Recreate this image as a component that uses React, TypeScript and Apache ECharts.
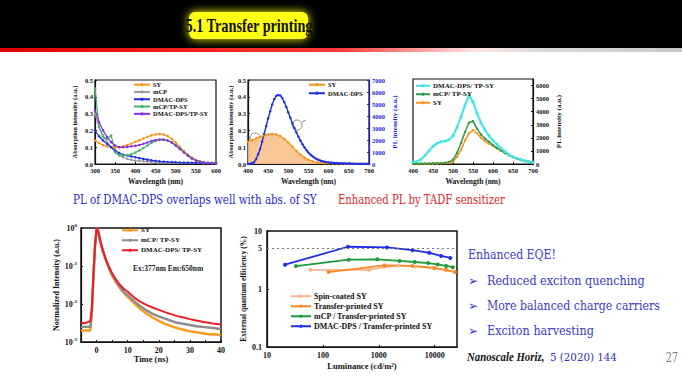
import React, { useEffect, useRef } from "react";
import * as echarts from "echarts";

const SERIF = "'Liberation Serif', 'Times New Roman', serif";
const REG = "DejaVu Serif";

// ---------- Chart 1: absorption ----------
const ABS_WL = [300, 310, 320, 330, 340, 350, 360, 370, 380, 390, 400, 410, 420, 430, 440, 450, 460, 470, 480, 490, 500, 510, 520, 530, 540, 550, 560, 570, 580, 590, 600];
const ABS_SY = [0.14, 0.125, 0.112, 0.105, 0.1, 0.098, 0.1, 0.105, 0.112, 0.122, 0.132, 0.142, 0.152, 0.162, 0.17, 0.176, 0.179, 0.176, 0.166, 0.15, 0.128, 0.103, 0.078, 0.056, 0.038, 0.025, 0.016, 0.01, 0.007, 0.006, 0.005];
const ABS_MCP = [0.3, 0.22, 0.17, 0.13, 0.1, 0.07, 0.05, 0.04, 0.03, 0.025, 0.02, 0.018, 0.016, 0.014, 0.013, 0.012, 0.011, 0.01, 0.009, 0.009, 0.008, 0.008, 0.007, 0.007, 0.006, 0.006, 0.006, 0.005, 0.005, 0.005, 0.005];
const ABS_DMAC = [0.2, 0.165, 0.14, 0.12, 0.1, 0.08, 0.065, 0.055, 0.05, 0.045, 0.04, 0.035, 0.03, 0.026, 0.022, 0.019, 0.016, 0.014, 0.012, 0.011, 0.01, 0.009, 0.008, 0.008, 0.007, 0.007, 0.006, 0.006, 0.005, 0.005, 0.005];
const ABS_MCP_TPSY = [0.45, 0.22, 0.16, 0.15, 0.17, 0.07, 0.055, 0.05, 0.052, 0.058, 0.068, 0.08, 0.095, 0.11, 0.125, 0.137, 0.143, 0.144, 0.14, 0.13, 0.113, 0.093, 0.072, 0.052, 0.035, 0.022, 0.014, 0.009, 0.007, 0.006, 0.005];
const ABS_DMAC_TPSY = [0.32, 0.25, 0.2, 0.16, 0.13, 0.11, 0.1, 0.1, 0.102, 0.105, 0.108, 0.113, 0.12, 0.128, 0.136, 0.142, 0.146, 0.146, 0.14, 0.128, 0.11, 0.09, 0.07, 0.05, 0.033, 0.021, 0.013, 0.009, 0.007, 0.006, 0.005];

// ---------- Chart 2: overlap ----------
const OVL_WL = [400, 410, 420, 430, 440, 450, 460, 470, 480, 490, 500, 510, 520, 530, 540, 550, 560, 570, 580, 590, 600, 610, 620, 630, 640, 650, 660, 670, 680, 690, 700];
const OVL_SY_ABS = [0.132, 0.142, 0.152, 0.162, 0.17, 0.176, 0.179, 0.176, 0.166, 0.15, 0.128, 0.103, 0.078, 0.056, 0.038, 0.025, 0.016, 0.01, 0.007, 0.005, 0.004, 0.003, 0.002, 0.002, 0.001, 0.001, 0, 0, 0, 0, 0];
const OVL_PL_WL = [400, 405, 410, 415, 420, 425, 430, 435, 440, 445, 450, 455, 460, 465, 470, 475, 480, 485, 490, 495, 500, 505, 510, 515, 520, 525, 530, 535, 540, 545, 550, 555, 560, 565, 570, 575, 580, 585, 590, 595, 600, 605, 610, 615, 620, 625, 630, 635, 640, 645, 650, 655, 660, 665, 670, 675, 680, 685, 690, 695, 700];
const OVL_DMAC_PL = [0, 20, 60, 150, 400, 800, 1250, 1850, 2500, 3150, 3800, 4400, 4950, 5400, 5680, 5750, 5700, 5500, 5150, 4750, 4300, 3850, 3400, 3000, 2620, 2270, 1950, 1650, 1380, 1150, 950, 780, 640, 520, 420, 340, 280, 230, 190, 160, 135, 115, 100, 85, 72, 62, 54, 48, 42, 37, 33, 29, 26, 23, 20, 18, 16, 14, 12, 11, 10];

// ---------- Chart 3: PL ----------
const PL_WL = [400, 410, 420, 430, 440, 450, 460, 470, 480, 490, 500, 510, 520, 530, 540, 550, 560, 570, 580, 590, 600, 610, 620, 630, 640, 650, 660, 670, 680, 690, 700];
const PL_DMAC_TPSY = [150, 200, 350, 650, 1000, 1350, 1580, 1700, 1750, 1850, 2150, 2800, 3600, 4500, 5250, 4750, 3900, 3150, 2600, 2150, 1800, 1500, 1200, 950, 720, 550, 420, 320, 240, 180, 130];
const PL_MCP_TPSY = [30, 30, 30, 30, 40, 50, 60, 70, 90, 150, 330, 850, 1600, 2450, 3150, 3280, 2700, 2250, 1950, 1700, 1450, 1230, 1030, 850, 680, 530, 410, 310, 230, 170, 130];
const PL_SY = [20, 20, 20, 20, 25, 30, 40, 50, 60, 80, 200, 550, 1080, 1800, 2350, 2600, 2350, 2000, 1750, 1550, 1380, 1200, 1020, 850, 680, 530, 410, 310, 230, 170, 130];

// ---------- Transient PL ----------
const TR_T = [-5, -4, -3, -2, -1.5, -1, -0.5, 0, 0.5, 1, 1.5, 2, 3, 4, 5, 6, 7, 8, 9, 10, 12, 14, 16, 18, 20, 22, 24, 26, 28, 30, 32, 34, 36, 38, 40];
const TR_SY = [0.002, 0.002, 0.002, 0.002, 0.006, 0.05, 0.32, 1, 0.82, 0.5, 0.34, 0.24, 0.14, 0.085, 0.056, 0.04, 0.03, 0.023, 0.0185, 0.0155, 0.0105, 0.0075, 0.0056, 0.0044, 0.0036, 0.003, 0.0026, 0.0023, 0.0021, 0.0019, 0.0018, 0.0017, 0.0016, 0.0016, 0.0015];
const TR_MCP = [0.0025, 0.0025, 0.0025, 0.0025, 0.007, 0.055, 0.33, 1, 0.83, 0.52, 0.36, 0.25, 0.145, 0.09, 0.06, 0.043, 0.032, 0.025, 0.02, 0.017, 0.012, 0.0088, 0.0068, 0.0055, 0.0047, 0.0041, 0.0036, 0.0032, 0.003, 0.0028, 0.0026, 0.0025, 0.0024, 0.0023, 0.0022];
const TR_DMAC = [0.0032, 0.0031, 0.0033, 0.0036, 0.008, 0.06, 0.35, 1, 0.85, 0.55, 0.38, 0.27, 0.15, 0.095, 0.064, 0.047, 0.036, 0.029, 0.024, 0.021, 0.015, 0.0115, 0.0095, 0.0081, 0.007, 0.0061, 0.0054, 0.0048, 0.0044, 0.004, 0.0037, 0.0034, 0.0032, 0.003, 0.0029];

// ---------- EQE ----------
const EQE_SPIN_L = [60, 660, 2200, 4500, 9300, 15000, 22000];
const EQE_SPIN_V = [2.14, 2.14, 2.55, 2.45, 2.32, 2.14, 2.0];
const EQE_TP_L = [126, 1250, 4000, 9800, 16000, 23000];
const EQE_TP_V = [1.96, 2.55, 2.5, 2.3, 2.14, 1.96];
const EQE_MCP_L = [33, 290, 940, 2350, 4400, 7600, 11300, 16000, 21000];
const EQE_MCP_V = [2.48, 3.2, 3.25, 3.05, 2.92, 2.8, 2.65, 2.5, 2.38];
const EQE_DMAC_L = [21, 280, 1400, 4000, 8000, 13000, 19000];
const EQE_DMAC_V = [2.62, 5.35, 5.2, 4.67, 4.2, 3.72, 3.43];

const zip = (xs: number[], ys: number[]) => xs.map((x, i) => [x, ys[i]]);
const strip = (n: string) => n.split("@")[0];

const INK = "#111";

function axisBase(fs: number, nameFs: number) {
  return {
    axisLine: { show: true, onZero: false, lineStyle: { color: INK, width: 1.2 } },
    axisTick: { show: true, inside: true, length: 2, lineStyle: { color: INK, width: 1 } },
    splitLine: { show: false },
    axisLabel: { fontFamily: SERIF, fontWeight: "bold", fontSize: fs, color: INK, margin: 3 },
    nameTextStyle: { fontFamily: SERIF, fontWeight: "bold", fontSize: nameFs, color: INK },
    nameLocation: "middle",
  };
}

function line(name: string, xi: number, yi: number, data: any[], color: string, extra: any = {}) {
  return {
    type: "line",
    name,
    xAxisIndex: xi,
    yAxisIndex: yi,
    data,
    symbol: "circle",
    symbolSize: 2.5,
    showSymbol: true,
    lineStyle: { color, width: 1.2 },
    itemStyle: { color },
    emphasis: { disabled: true },
    ...extra,
  };
}

function legend(left: number, top: number, names: string[], fs: number, gap: number, iw: number, lh: number) {
  return {
    left,
    top,
    orient: "vertical",
    data: names,
    selectedMode: false,
    itemWidth: iw,
    itemHeight: 4,
    itemGap: gap,
    padding: 0,
    formatter: strip,
    textStyle: { fontFamily: SERIF, fontWeight: "bold", fontSize: fs, color: INK, lineHeight: lh, padding: [0, 0, 0, -2] },
  };
}

let measureCtx: CanvasRenderingContext2D | null = null;
function measure(text: string, size: number, family: string) {
  if (!measureCtx) measureCtx = document.createElement("canvas").getContext("2d");
  if (!measureCtx) return 1;
  measureCtx.font = `${size}px ${family}`;
  return measureCtx.measureText(text).width || 1;
}

// regular-weight serif text, condensed to the width it takes in the slide
function fitTxt(x: number, y: number, text: string, size: number, width: number, fill: string) {
  const w = measure(text, size, REG);
  return {
    type: "text",
    x,
    y,
    scaleX: width / w,
    silent: true,
    style: { text, fontFamily: REG, fontSize: size, fill, verticalAlign: "middle" },
  };
}

const C_OR = "#f7941d";
const C_GR = "#9a9a9a";
const C_BL = "#1f2ee6";
const C_GN = "#3fb56a";
const C_PU = "#8a2be2";
const C_TXT = "#3a3ac6";

export default function App() {
  const ref = useRef<HTMLDivElement>(null);
  useEffect(() => {
    if (!ref.current) return;
    const chart = echarts.init(ref.current, undefined, { renderer: "svg" });
    const supFmt = (v: number) => {
      const e = Math.round(Math.log10(v));
      return "{b|10}{s|" + e + "}";
    };
    const option: any = {
      animation: false,
      backgroundColor: "#ffffff",
      grid: [
        { left: 95, top: 80, width: 121, height: 84, show: true, borderColor: INK, borderWidth: 1.2 },
        { left: 248, top: 80, width: 121, height: 84, show: true, borderColor: INK, borderWidth: 1.2 },
        { left: 413, top: 79, width: 120, height: 85, show: true, borderColor: INK, borderWidth: 1.2 },
        { left: 81, top: 228, width: 140, height: 114, show: true, borderColor: INK, borderWidth: 1.5 },
        { left: 267, top: 231, width: 190, height: 116, show: true, borderColor: INK, borderWidth: 1.5 },
      ],
      xAxis: [
        { ...axisBase(6.5, 7.5), gridIndex: 0, type: "value", min: 300, max: 600, interval: 50, name: "Wavelength (nm)", nameGap: 13 },
        { ...axisBase(6.5, 7.5), gridIndex: 1, type: "value", min: 400, max: 700, interval: 50, name: "Wavelength (nm)", nameGap: 13 },
        { ...axisBase(6.5, 7.5), gridIndex: 2, type: "value", min: 400, max: 700, interval: 50, name: "Wavelength (nm)", nameGap: 13 },
        {
          ...axisBase(8, 8.5), gridIndex: 3, type: "value", min: -5, max: 40, interval: 5, name: "Time (ns)", nameGap: 12,
          axisLabel: { ...axisBase(8, 8).axisLabel, margin: 4, formatter: (v: number) => (v >= 0 && v % 10 === 0 ? String(v) : "") },
        },
        {
          ...axisBase(8, 8.5), gridIndex: 4, type: "log", logBase: 10, min: 10, max: 25000, name: "Luminance (cd/m²)", nameGap: 14,
          axisLabel: {
            ...axisBase(8, 8).axisLabel, margin: 4, showMaxLabel: false,
            formatter: (v: number) => {
              const e = Math.log10(v);
              return Math.abs(e - Math.round(e)) < 0.01 ? String(Math.round(Math.pow(10, Math.round(e)))) : "";
            },
          },
        },
      ],
      yAxis: [
        {
          ...axisBase(6.5, 6.5), gridIndex: 0, type: "value", min: 0, max: 0.5, interval: 0.1, name: "Absorption intensity (a.u.)", nameGap: 17,
          axisLabel: { ...axisBase(6.5, 6.5).axisLabel, margin: 2, formatter: (v: number) => v.toFixed(1) },
        },
        {
          ...axisBase(6.5, 6.5), gridIndex: 1, type: "value", min: 0, max: 0.5, interval: 0.1, name: "Absorption intensity (a.u.)", nameGap: 13,
          axisLabel: { ...axisBase(6.5, 6.5).axisLabel, margin: 2, formatter: (v: number) => v.toFixed(1) },
        },
        {
          ...axisBase(6.5, 7), gridIndex: 1, type: "value", position: "right", min: 0, max: 7000, interval: 1000, name: "PL intensity (a.u.)", nameGap: 22,
          axisLine: { show: true, onZero: false, lineStyle: { color: "#1a1acc", width: 1.2 } },
          axisTick: { show: true, inside: true, length: 2, lineStyle: { color: "#1a1acc" } },
          axisLabel: { ...axisBase(6.5, 6.5).axisLabel, color: "#2424d8", margin: 3, formatter: (v: number) => String(v) },
          nameTextStyle: { fontFamily: SERIF, fontWeight: "bold", fontSize: 7, color: "#2424d8" },
        },
        {
          ...axisBase(6.5, 7), gridIndex: 2, type: "value", position: "right", min: 0, max: 6500, interval: 1000, name: "PL intensity (a.u.)", nameGap: 22,
          axisLabel: { ...axisBase(6.5, 6.5).axisLabel, margin: 3, showMaxLabel: false, formatter: (v: number) => (v % 1000 === 0 ? String(v) : "") },
        },
        {
          ...axisBase(8, 8), gridIndex: 3, type: "log", logBase: 10, min: 0.001, max: 1, name: "Normalized Intensity (a.u.)", nameGap: 19,
          axisLabel: {
            ...axisBase(8, 8).axisLabel, margin: 4, formatter: supFmt,
            rich: {
              b: { fontFamily: SERIF, fontWeight: "bold", fontSize: 8, color: INK },
              s: { fontFamily: SERIF, fontWeight: "bold", fontSize: 5, color: INK, padding: [0, 0, 6, 0] },
            },
          },
        },
        {
          ...axisBase(8, 7.5), gridIndex: 4, type: "log", logBase: 10, min: 0.1, max: 10, name: "External quantum efficiency (%)", nameGap: 20,
          axisLabel: {
            ...axisBase(8, 8).axisLabel, margin: 5,
            formatter: (v: number) => {
              const e = Math.round(Math.log10(v));
              return e < 0 ? "0.1" : String(Math.pow(10, e));
            },
          },
        },
      ],
      legend: [
        legend(133, 81, ["SY@1", "mCP@1", "DMAC-DPS@1", "mCP/TP-SY@1", "DMAC-DPS/TP-SY@1"], 6.5, 0, 16, 7.3),
        legend(308, 81, ["SY@2", "DMAC-DPS@2"], 6.5, 1, 16, 7.5),
        legend(415, 82, ["DMAC-DPS/ TP-SY@3", "mCP/ TP-SY@3", "SY@3"], 7, 1, 14, 7.5),
        legend(121, 226, ["SY@4", "mCP/ TP-SY@4", "DMAC-DPS/ TP-SY@4"], 7, 1.5, 16, 8.5),
        legend(290, 292, ["Spin-coated SY@5", "Transfer-printed SY@5", "mCP / Transfer-printed SY@5", "DMAC-DPS / Transfer-printed SY@5"], 8, 1.5, 20, 8.5),
      ],
      series: [
        line("SY@1", 0, 0, zip(ABS_WL, ABS_SY), C_OR),
        line("mCP@1", 0, 0, zip(ABS_WL, ABS_MCP), C_GR),
        line("DMAC-DPS@1", 0, 0, zip(ABS_WL, ABS_DMAC), C_BL),
        line("mCP/TP-SY@1", 0, 0, zip(ABS_WL, ABS_MCP_TPSY), C_GN),
        line("DMAC-DPS/TP-SY@1", 0, 0, zip(ABS_WL, ABS_DMAC_TPSY), C_PU),
        line("SY@2", 1, 1, zip(OVL_WL, OVL_SY_ABS), C_OR, { areaStyle: { color: "#f9c08a", opacity: 0.9 } }),
        line("DMAC-DPS@2", 1, 2, zip(OVL_PL_WL, OVL_DMAC_PL), C_BL, { lineStyle: { color: C_BL, width: 1.4 } }),
        line("SY@3", 2, 3, zip(PL_WL, PL_SY), C_OR, { lineStyle: { color: C_OR, width: 1.5 } }),
        line("mCP/ TP-SY@3", 2, 3, zip(PL_WL, PL_MCP_TPSY), "#2f9a4c", { lineStyle: { color: "#2f9a4c", width: 1.5 } }),
        line("DMAC-DPS/ TP-SY@3", 2, 3, zip(PL_WL, PL_DMAC_TPSY), "#3fe6e6", { lineStyle: { color: "#3fe6e6", width: 2 }, symbolSize: 3 }),
        line("SY@4", 3, 4, zip(TR_T, TR_SY), "#ff9a1a", { showSymbol: false, symbol: "none", lineStyle: { color: "#ff9a1a", width: 2.4 } }),
        line("mCP/ TP-SY@4", 3, 4, zip(TR_T, TR_MCP), "#8c8c8c", { showSymbol: false, symbol: "none", lineStyle: { color: "#8c8c8c", width: 2.4 } }),
        line("DMAC-DPS/ TP-SY@4", 3, 4, zip(TR_T, TR_DMAC), "#ee1c25", { showSymbol: false, symbol: "none", lineStyle: { color: "#ee1c25", width: 2 } }),
        line("Spin-coated SY@5", 4, 5, zip(EQE_SPIN_L, EQE_SPIN_V), "#f7b48a", { symbolSize: 4, lineStyle: { color: "#f7b48a", width: 1.8 } }),
        line("Transfer-printed SY@5", 4, 5, zip(EQE_TP_L, EQE_TP_V), "#f28a2a", { symbolSize: 4, lineStyle: { color: "#f28a2a", width: 1.8 } }),
        line("mCP / Transfer-printed SY@5", 4, 5, zip(EQE_MCP_L, EQE_MCP_V), "#1e9a3a", { symbolSize: 4, lineStyle: { color: "#1e9a3a", width: 1.8 } }),
        line("DMAC-DPS / Transfer-printed SY@5", 4, 5, zip(EQE_DMAC_L, EQE_DMAC_V), "#1f2ee6", {
          symbolSize: 4,
          lineStyle: { color: "#1f2ee6", width: 1.8 },
          markLine: {
            silent: true,
            symbol: "none",
            lineStyle: { color: "#777", type: [2, 3], width: 1 },
            label: { show: true, position: "start", formatter: "5", fontFamily: SERIF, fontWeight: "bold", fontSize: 8, color: INK, distance: 5 },
            data: [{ yAxis: 5 }],
          },
        }),
      ],
      graphic: [
        { type: "rect", shape: { x: 0, y: 0, width: 682, height: 48 }, style: { fill: "#000" }, silent: true },
        {
          type: "rect", shape: { x: 0, y: 48, width: 682, height: 4 }, silent: true,
          style: {
            fill: new echarts.graphic.LinearGradient(0, 0, 1, 0, [
              { offset: 0, color: "#e00000" },
              { offset: 0.5, color: "#ff3a3a" },
              { offset: 0.7, color: "#ffe4e4" },
              { offset: 0.8, color: "#d8d8d8" },
              { offset: 1, color: "#c8c8c8" },
            ]),
          },
        },
        { type: "rect", shape: { x: 189, y: 12, width: 119, height: 27, r: 6 }, style: { fill: "#ffff14", shadowBlur: 10, shadowColor: "#ffff00" }, silent: true },
        {
          type: "text", x: 249, y: 26, scaleX: 0.75, silent: true,
          style: { text: "5.1 Transfer printing", fontFamily: SERIF, fontWeight: "bold", fontSize: 19, fill: "#111", align: "center", verticalAlign: "middle" },
        },
        { type: "circle", shape: { cx: 255, cy: 138, r: 5 }, style: { fill: "none", stroke: "#8a8a8a", lineWidth: 1 } },
        { type: "line", shape: { x1: 250, y1: 138, x2: 246, y2: 136 }, style: { stroke: "#8a8a8a", lineWidth: 1 } },
        { type: "circle", shape: { cx: 297, cy: 125, r: 5 }, style: { fill: "none", stroke: "#8a8a8a", lineWidth: 1 } },
        { type: "line", shape: { x1: 302, y1: 122, x2: 306, y2: 120 }, style: { stroke: "#8a8a8a", lineWidth: 1 } },
        // captions
        fitTxt(73, 200, "PL of DMAC-DPS overlaps well with abs. of SY", 12.5, 244, "#2b2bc8"),
        fitTxt(338, 200, "Enhanced PL by TADF sensitizer", 12.5, 167, "#e0262a"),
        {
          type: "text", x: 133, y: 268, silent: true,
          style: { text: "Ex:377nm Em:650nm", fontFamily: SERIF, fontWeight: "bold", fontSize: 7.5, fill: "#222", verticalAlign: "middle" },
        },
        fitTxt(468, 255, "Enhanced EQE!", 13.5, 88, C_TXT),
        { type: "text", x: 468, y: 281, silent: true, style: { text: "➢", fontFamily: "DejaVu Sans", fontSize: 12, fill: C_TXT, verticalAlign: "middle" } },
        fitTxt(487, 281, "Reduced exciton quenching", 13, 158, C_TXT),
        { type: "text", x: 468, y: 306, silent: true, style: { text: "➢", fontFamily: "DejaVu Sans", fontSize: 12, fill: C_TXT, verticalAlign: "middle" } },
        fitTxt(487, 306, "More balanced charge carriers", 13, 173, C_TXT),
        { type: "text", x: 468, y: 331, silent: true, style: { text: "➢", fontFamily: "DejaVu Sans", fontSize: 12, fill: C_TXT, verticalAlign: "middle" } },
        fitTxt(487, 331, "Exciton harvesting", 13, 107, C_TXT),
        {
          type: "text", x: 467, y: 357, scaleX: 0.9, silent: true,
          style: { text: "Nanoscale Horiz,", fontFamily: SERIF, fontStyle: "italic", fontWeight: "bold", fontSize: 12, fill: "#111", verticalAlign: "middle" },
        },
        fitTxt(550, 357, "5 (2020) 144", 11, 67, "#3030c0"),
        fitTxt(666, 358, "27", 12.5, 12, "#777"),
      ],
    };
    chart.setOption(option);
    return () => chart.dispose();
  }, []);
  return (
    <div
      ref={ref}
      style={{ position: "fixed", left: 0, top: 0, width: 682, height: 387, background: "#fff" }}
    />
  );
}
